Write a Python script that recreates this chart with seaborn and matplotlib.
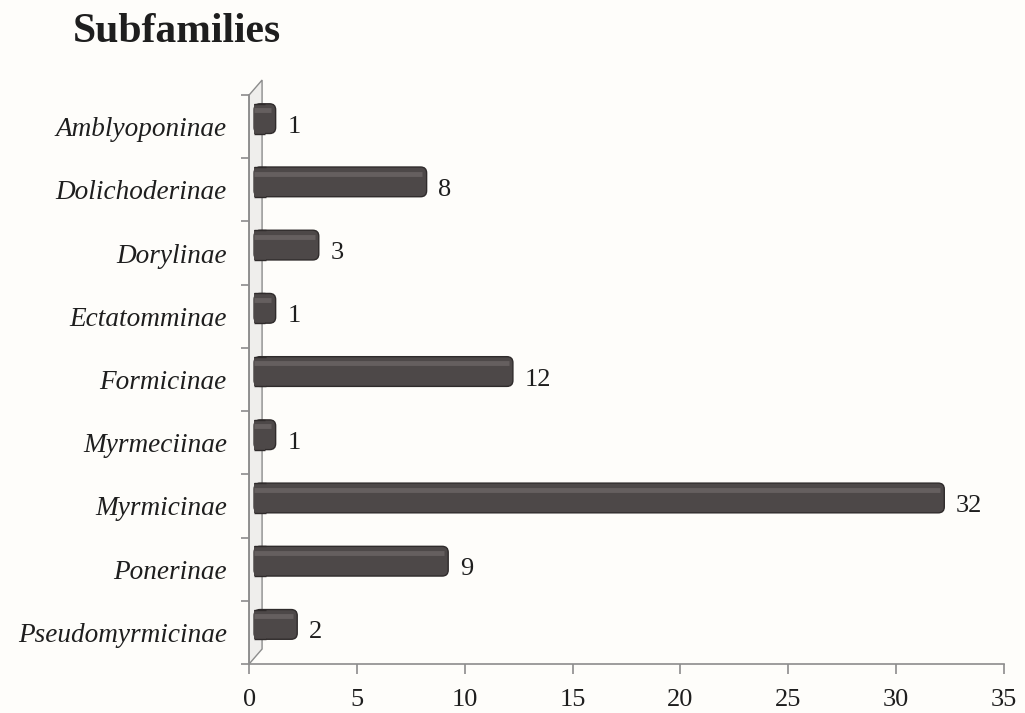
import matplotlib
matplotlib.use("Agg")
import matplotlib.pyplot as plt
import matplotlib.transforms as mtransforms
from matplotlib.patches import Polygon, FancyBboxPatch, Rectangle
import seaborn as sns
import pandas as pd

subfamilies = ["Amblyoponinae", "Dolichoderinae", "Dorylinae", "Ectatomminae",
               "Formicinae", "Myrmeciinae", "Myrmicinae", "Ponerinae",
               "Pseudomyrmicinae"]
species_counts = [1, 8, 3, 1, 12, 1, 32, 9, 2]
x_ticks = [0, 5, 10, 15, 20, 25, 30, 35]

df = pd.DataFrame({"Subfamily": subfamilies, "Count": species_counts})

sns.set_theme(style="white")
plt.rcParams["font.family"] = ["Liberation Serif", "DejaVu Serif"]

bg = "#fefdfa"
axis_gray = "#8c8c8c"
bar_color = "#4d4848"
bar_edge = "#2f2b2b"
text_color = "#1e1e1e"

fig = plt.figure(figsize=(10.25, 7.13), dpi=100, facecolor=bg)
ax = fig.add_axes([0.243, 0.0687, 0.7365, 0.798])
ax.set_facecolor(bg)

sns.barplot(data=df, y="Subfamily", x="Count", orient="h", color=bar_color,
            width=0.47, saturation=1, ax=ax)

ax.set_xlim(0, 35)
ax.set_ylim(len(subfamilies) - 0.5, -0.5)
fig.canvas.draw()

# pixel scale of each data axis, used for rounded ends with equal radii
bbox = ax.get_window_extent()
px_x = bbox.width / 35.0
px_y = bbox.height / len(subfamilies)

# bars sit slightly up and to the right of the category, like a 3D depth shift
depth = mtransforms.ScaledTranslation(5 / 100, 8 / 100, fig.dpi_scale_trans)
bar_tf = ax.transData + depth

radius_px = 6.0
r_x = radius_px / px_x
for patch in list(ax.patches):
    x0, y0 = patch.get_x(), patch.get_y()
    w, h = patch.get_width(), patch.get_height()
    patch.set_visible(False)
    body = FancyBboxPatch((x0, y0), w, h,
                          boxstyle=f"round,pad=0,rounding_size={r_x}",
                          mutation_aspect=px_x / px_y,
                          facecolor=bar_color, edgecolor=bar_edge, linewidth=1.0,
                          transform=bar_tf, zorder=2)
    ax.add_patch(body)
    # square the end that rests against the wall
    ax.add_patch(Rectangle((x0, y0), min(w / 2, 2 * r_x), h, facecolor=bar_color,
                           edgecolor="none", transform=bar_tf, zorder=2.1))
    ax.plot([x0, x0 + min(w / 2, 2 * r_x)], [y0, y0], color=bar_edge, lw=1.0,
            transform=bar_tf, zorder=2.2, solid_capstyle="butt")
    ax.plot([x0, x0 + min(w / 2, 2 * r_x)], [y0 + h, y0 + h], color=bar_edge,
            lw=1.0, transform=bar_tf, zorder=2.2, solid_capstyle="butt")
    # lighter band along the upper part of the bar
    ax.plot([x0, x0 + w - r_x * 0.7], [y0 + h * 0.22] * 2,
            color="#655f5f", lw=3.5, solid_capstyle="butt", zorder=3,
            transform=bar_tf)

# value labels
for i, v in enumerate(species_counts):
    ax.text(v + 0.78, i, str(v), va="center", ha="left", fontsize=19,
            color=text_color)

ax.set_xticks(x_ticks)
ax.set_xticklabels([str(t) for t in x_ticks], fontsize=19, color=text_color)
ax.set_yticks(range(len(subfamilies)))
ax.set_yticklabels(subfamilies, fontsize=19.6, style="italic", color=text_color)
ax.set_xlabel("")
ax.set_ylabel("")

# category boundary ticks on the y axis
ax.set_yticks([i - 0.5 for i in range(len(subfamilies) + 1)], minor=True)
ax.tick_params(axis="y", which="major", length=0, pad=16)
ax.tick_params(axis="y", which="minor", length=6, width=1.2, color=axis_gray,
               direction="out", left=True)
ax.tick_params(axis="x", length=7, width=1.2, color=axis_gray, direction="out",
               bottom=True, pad=11)

for side in ["top", "right"]:
    ax.spines[side].set_visible(False)
for side in ["left", "bottom"]:
    ax.spines[side].set_color(axis_gray)
    ax.spines[side].set_linewidth(1.2)

# thin slanted back wall behind the category axis
off = mtransforms.offset_copy(ax.transAxes, fig=fig, x=13, y=15, units="dots")
inv = ax.transAxes.inverted()
front = [ax.transAxes.transform(p) for p in [(0, 0), (0, 1)]]
back = [off.transform(p) for p in [(0, 1), (0, 0)]]
pts = [inv.transform(p) for p in front + back]
ax.add_patch(Polygon(pts, closed=True, transform=ax.transAxes, facecolor="#efeeec",
                     edgecolor=axis_gray, linewidth=1.0, clip_on=False, zorder=0.5))

fig.text(0.071, 0.955, "Subfamilies", fontsize=30, fontweight="bold",
         ha="left", va="center", color=text_color)

fig.savefig("out.png", dpi=100, facecolor=bg)
